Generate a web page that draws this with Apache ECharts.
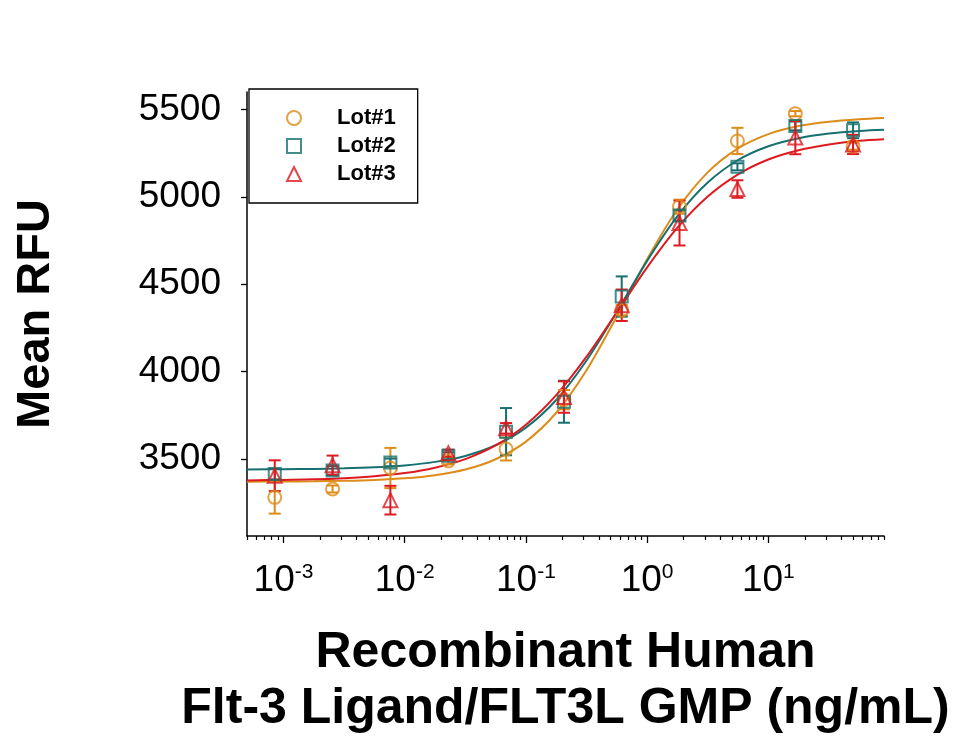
<!DOCTYPE html>
<html><head><meta charset="utf-8">
<script src="https://cdn.jsdelivr.net/npm/echarts@6/dist/echarts.min.js"></script>
<style>html,body{margin:0;padding:0;background:#fff}#c{width:957px;height:742px}</style>
</head><body><div id="c"></div>
<script>
// ---- data ----
const lotNames = ['Lot#1', 'Lot#2', 'Lot#3'];
const concentrations = [0.000847, 0.00254, 0.00762, 0.0229, 0.0686, 0.206, 0.617, 1.85, 5.56, 16.7, 50];

const lot1Mean = [3281, 3329, 3449, 3490, 3557, 3840, 4352, 4944, 5320, 5476, 5290];
const lot1Err  = [93, 20, 115, 20, 65, 55, 30, 40, 75, 15, 20];
const lot2Mean = [3414, 3435, 3481, 3519, 3657, 3828, 4430, 4893, 5172, 5406, 5381];
const lot2Err  = [30, 25, 22, 20, 135, 120, 115, 30, 20, 25, 45];
const lot3Mean = [3405, 3465, 3265, 3534, 3676, 3855, 4380, 4850, 5045, 5339, 5300];
const lot3Err  = [88, 55, 82, 20, 30, 90, 90, 128, 50, 95, 55];

// fitted curves (x as log10 of concentration)
const curveLogConc = [-3.301, -3.0, -2.75, -2.5, -2.25, -2.0, -1.75, -1.5, -1.25, -1.0, -0.75, -0.5, -0.25, 0, 0.25, 0.5, 0.75, 1.0, 1.25, 1.5, 1.75, 1.954];
const lot1Fit = [3371, 3372, 3373, 3376, 3381, 3390, 3408, 3440, 3499, 3600, 3765, 4008, 4316, 4643, 4929, 5140, 5277, 5359, 5405, 5430, 5444, 5451];
const lot2Fit = [3441, 3442, 3444, 3447, 3453, 3464, 3484, 3518, 3579, 3680, 3838, 4064, 4342, 4634, 4890, 5082, 5211, 5290, 5336, 5362, 5377, 5384];
const lot3Fit = [3378, 3381, 3384, 3391, 3402, 3420, 3451, 3500, 3578, 3697, 3866, 4086, 4340, 4597, 4824, 5002, 5129, 5214, 5267, 5300, 5321, 5330];

const yTicks = [3500, 4000, 4500, 5000, 5500];
const yRange = [3060, 5600];
const xDecades = [-3, -2, -1, 0, 1];
const xRange = [0.0005, 90];

// ---- styling ----
const FONT = 'Arial, "Liberation Sans", Helvetica, sans-serif';
const colors = ['#DD8C1A', '#17706F', '#DC1A20'];
const symbols = ['circle', 'rect', 'triangle'];
const symbolSizes = [13, 12, 14];

const xMin = Math.log10(xRange[0]), xMax = Math.log10(xRange[1]);
const minorTicks = [];
for (let n = -4; n <= 1; n++) {
  for (let k = 2; k <= 9; k++) {
    const v = Math.log10(k * Math.pow(10, n));
    if (v >= xMin - 1e-9 && v <= xMax + 1e-9) minorTicks.push(v);
  }
}

const means = [lot1Mean, lot2Mean, lot3Mean];
const errs = [lot1Err, lot2Err, lot3Err];
const fits = [lot1Fit, lot2Fit, lot3Fit];

const series = [];
lotNames.forEach((name, li) => {
  series.push({
    type: 'line', name: name + ' fit', showSymbol: false, smooth: 0.3, silent: true, z: 2,
    xAxisIndex: 0, yAxisIndex: 0,
    lineStyle: { color: colors[li], width: 2 },
    itemStyle: { color: colors[li] },
    data: curveLogConc.map((x, i) => [x, fits[li][i]])
  });
});
lotNames.forEach((name, li) => {
  const c = colors[li];
  series.push({
    type: 'custom', name: name + ' err', silent: true, z: 3,
    xAxisIndex: 0, yAxisIndex: 0,
    encode: { x: 0, y: [1, 2] },
    data: concentrations.map((conc, i) => [Math.log10(conc), means[li][i] - errs[li][i], means[li][i] + errs[li][i]]),
    renderItem: function (params, api) {
      const x = api.value(0);
      const lo = api.coord([x, api.value(1)]);
      const hi = api.coord([x, api.value(2)]);
      const hw = 6;
      const st = { stroke: c, lineWidth: 2, fill: null };
      return { type: 'group', children: [
        { type: 'line', shape: { x1: lo[0], y1: lo[1], x2: hi[0], y2: hi[1] }, style: st },
        { type: 'line', shape: { x1: lo[0] - hw, y1: lo[1], x2: lo[0] + hw, y2: lo[1] }, style: st },
        { type: 'line', shape: { x1: hi[0] - hw, y1: hi[1], x2: hi[0] + hw, y2: hi[1] }, style: st }
      ]};
    }
  });
});
lotNames.forEach((name, li) => {
  series.push({
    type: 'scatter', name: name, z: 4,
    xAxisIndex: 0, yAxisIndex: 0,
    symbol: symbols[li], symbolSize: symbolSizes[li],
    itemStyle: { color: 'rgba(255,255,255,0)', borderColor: colors[li], borderWidth: 2 },
    emphasis: { disabled: true },
    data: concentrations.map((conc, i) => [Math.log10(conc), means[li][i]])
  });
});

const chart = echarts.init(document.getElementById('c'), null, { renderer: 'canvas' });
chart.setOption({
  animation: false,
  backgroundColor: '#fff',
  grid: { left: 247, top: 92, width: 637, height: 444, containLabel: false, outerBoundsMode: 'none' },
  legend: {
    orient: 'vertical', left: 249, top: 89,
    padding: [18, 22, 18, 37],
    borderColor: '#000', borderWidth: 1.3, backgroundColor: '#fff',
    itemWidth: 14, itemHeight: 14, itemGap: 6,
    selectedMode: false,
    textStyle: { fontSize: 22, fontWeight: 'bold', fontFamily: FONT, color: '#000', padding: [0, 0, 0, 31] },
    data: lotNames.map((n, i) => ({
      name: n, icon: symbols[i],
      itemStyle: { color: 'rgba(255,255,255,0)', borderColor: colors[i], borderWidth: 2 }
    }))
  },
  xAxis: [{
    type: 'value', min: xMin, max: xMax, position: 'bottom',
    name: 'Recombinant Human\nFlt-3 Ligand/FLT3L GMP (ng/mL)',
    nameLocation: 'middle', nameGap: 89,
    nameTextStyle: { fontSize: 50, lineHeight: 56, fontWeight: 'bold', color: '#000', fontFamily: FONT },
    axisLine: { show: true, onZero: false, lineStyle: { color: '#000', width: 1.5 } },
    axisTick: { show: true, customValues: xDecades, length: 7, inside: false, lineStyle: { color: '#000', width: 1.3 } },
    splitLine: { show: false },
    axisLabel: {
      show: true, customValues: xDecades, margin: 26,
      formatter: v => '{b|10}{s|' + Math.round(v) + '}',
      rich: {
        b: { fontSize: 37, lineHeight: 37, fontFamily: FONT, color: '#000' },
        s: { fontSize: 21, lineHeight: 21, verticalAlign: 'top', fontFamily: FONT, color: '#000' }
      }
    }
  }, {
    type: 'value', min: xMin, max: xMax, position: 'bottom', gridIndex: 0,
    axisLine: { show: false, onZero: false },
    axisTick: { show: true, customValues: minorTicks, length: 4, inside: false, lineStyle: { color: '#000', width: 1.2 } },
    axisLabel: { show: false },
    splitLine: { show: false }
  }],
  yAxis: {
    type: 'value', min: yRange[0], max: yRange[1],
    name: 'Mean RFU', nameLocation: 'middle', nameGap: 187,
    nameTextStyle: { fontSize: 47, fontWeight: 'bold', color: '#000', fontFamily: FONT },
    axisLine: { show: true, onZero: false, lineStyle: { color: '#000', width: 1.5 } },
    axisTick: { show: true, customValues: yTicks, length: 6, inside: false, lineStyle: { color: '#000', width: 1.3 } },
    axisLabel: { show: true, customValues: yTicks, margin: 26, fontSize: 37, fontFamily: FONT, color: '#000', formatter: v => String(v) },
    splitLine: { show: false }
  },
  series: series
});
</script>
</body></html>
